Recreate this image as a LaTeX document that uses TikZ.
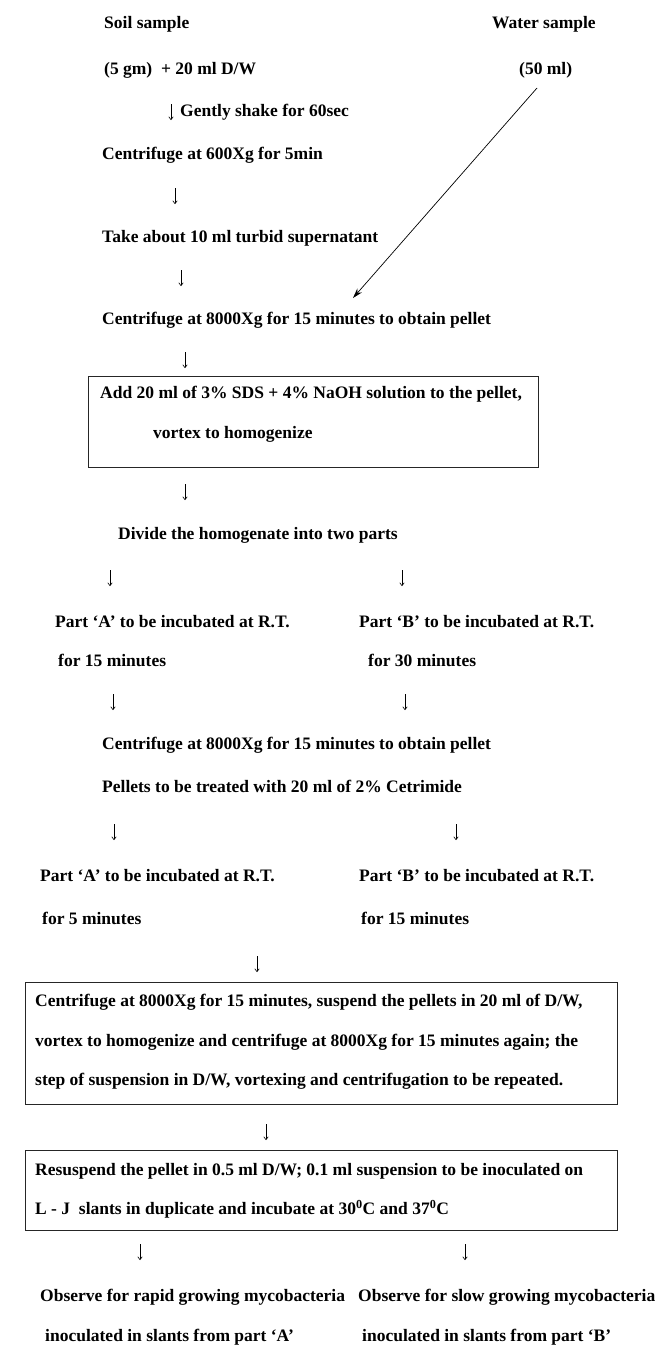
\documentclass[tikz,border=0pt]{standalone}
\usepackage{fontspec}
\setmainfont{Liberation Serif}
\usepackage{tikz}
\usetikzlibrary{arrows.meta,positioning,calc}
\tikzset{
  steptext/.style={anchor=west,inner sep=0pt,font=\fontsize{17.5}{21}\selectfont\bfseries},
  framebox/.style={rectangle,draw=black!85,line width=0.9pt,anchor=north west,inner sep=0pt},
  drop/.style={-{To[length=3.5pt,width=5pt]},line width=0.6pt},
  arrow/.style={-{Stealth[length=10pt,width=6pt]},line width=0.7pt},
}

\begin{document}
\begin{tikzpicture}[x=1pt,y=-1pt]
  \useasboundingbox (0,0) rectangle (658,1355);

  %% ── Samples ───────────────────────────────────────────────────────────────
  \node[steptext] (soil)     at (104,24)  {Soil sample};
  \node[steptext] (water)    at (492,24)  {Water sample};
  \node[steptext] (soilmix)  at (104,70)  {(5 gm)~ + 20 ml D/W};
  \node[steptext] (watervol) at (519,70)  {(50 ml)};

  %% ── Soil pre-treatment ────────────────────────────────────────────────────
  \node[steptext] (shake)    at (180,112) {Gently shake for 60sec};
  \node[steptext] (spinlow)  at (102,155) {Centrifuge at 600Xg for 5min};
  \node[steptext] (super)    at (102,238) {Take about 10 ml turbid supernatant};
  \node[steptext] (spinhigh) at (102,320) {Centrifuge at 8000Xg for 15 minutes to obtain pellet};

  %% ── Decontamination (SDS + NaOH) ──────────────────────────────────────────
  \node[framebox,minimum width=450pt,minimum height=91pt] (sdsbox) at (88,376) {};
  \node[steptext] (sds)      at (100,394) {Add 20 ml of 3\% SDS + 4\% NaOH solution to the pellet,};
  \node[steptext] (vortex)   at (153,434) {vortex to homogenize};
  \node[steptext] (divide)   at (118,535) {Divide the homogenate into two parts};

  \node[steptext] (incA)     at (55,622)  {Part ‘A’ to be incubated at R.T.};
  \node[steptext] (incB)     at (359,622) {Part ‘B’ to be incubated at R.T.};
  \node[steptext] (timeA)    at (58,660)  {for 15 minutes};
  \node[steptext] (timeB)    at (368,660) {for 30 minutes};

  %% ── Cetrimide treatment ───────────────────────────────────────────────────
  \node[steptext] (spinpool) at (102,745) {Centrifuge at 8000Xg for 15 minutes to obtain pellet};
  \node[steptext] (cetri)    at (102,786) {Pellets to be treated with 20 ml of 2\% Cetrimide};
  \node[steptext] (cetA)     at (40,876)  {Part ‘A’ to be incubated at R.T.};
  \node[steptext] (cetB)     at (359,876) {Part ‘B’ to be incubated at R.T.};
  \node[steptext] (cettA)    at (42,918)  {for 5 minutes};
  \node[steptext] (cettB)    at (361,918) {for 15 minutes};

  %% ── Washing ───────────────────────────────────────────────────────────────
  \node[framebox,minimum width=592pt,minimum height=122pt] (washbox) at (25,982) {};
  \node[steptext] (wash1)    at (35,1002) {Centrifuge at 8000Xg for 15 minutes, suspend the pellets in 20 ml of D/W,};
  \node[steptext] (wash2)    at (35,1042) {vortex to homogenize and centrifuge at 8000Xg for 15 minutes again; the};
  \node[steptext] (wash3)    at (35,1081) {step of suspension in D/W, vortexing and centrifugation to be repeated.};

  %% ── Inoculation ───────────────────────────────────────────────────────────
  \node[framebox,minimum width=592pt,minimum height=80pt] (ljbox) at (25,1150) {};
  \node[steptext] (resus)    at (35,1171) {Resuspend the pellet in 0.5 ml D/W; 0.1 ml suspension to be inoculated on};
  \node[steptext] (slants)   at (35,1209) {L - J~ slants in duplicate and incubate at 30\textsuperscript{0}C and 37\textsuperscript{0}C};

  \node[steptext] (rapid)    at (40,1297)  {Observe for rapid growing mycobacteria};
  \node[steptext] (slow)     at (358,1297) {Observe for slow growing mycobacteria};
  \node[steptext] (fromA)    at (45,1337)  {inoculated in slants from part ‘A’};
  \node[steptext] (fromB)    at (362,1337) {inoculated in slants from part ‘B’};

  %% ── Down arrows ───────────────────────────────────────────────────────────
  \foreach \i/\px/\py in {1/171/112, 2/175/196, 3/181/278, 4/185/360, 5/185/492,
                          6/110/578, 7/402/578, 8/113/702, 9/405/702,
                          10/114/832, 11/456/832, 12/257/964, 13/266/1132,
                          14/140/1252, 15/465/1252}{
    \coordinate (up\i) at (\px,\py-8);
    \coordinate (dn\i) at (\px,\py+8);
    \draw[drop] (up\i) -- (dn\i);
  }

  %% ── Water sample joins at high-speed spin ─────────────────────────────────
  \coordinate (wtail) at (537,88);
  \coordinate (whead) at (353,298);
  \draw[arrow] (wtail) -- (whead);

\end{tikzpicture}
\end{document}
